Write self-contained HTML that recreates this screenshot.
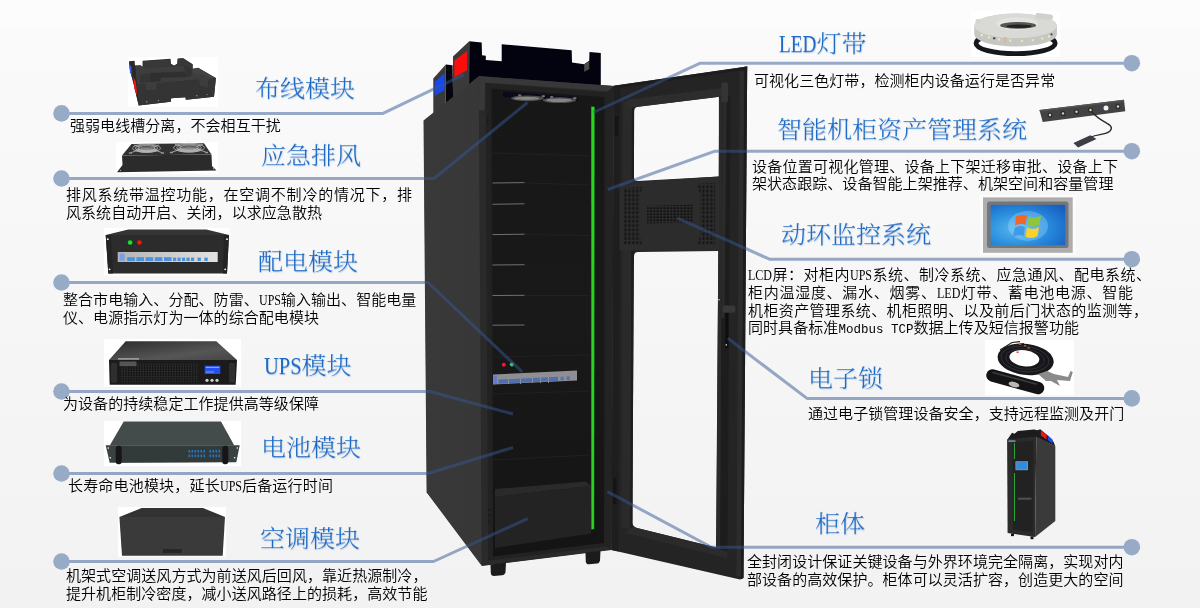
<!DOCTYPE html>
<html lang="zh-CN">
<head>
<meta charset="utf-8">
<title>智能机柜模块介绍</title>
<style>
html,body{margin:0;padding:0;}
body{width:1200px;height:610px;overflow:hidden;position:relative;
  background:linear-gradient(180deg,#fcfcfc 0px,#fcfcfc 28.5px,#fafafa 29px,#f8f8f8 190px,#f5f5f5 380px,#f2f2f2 607.5px,#ffffff 608px,#ffffff 610px);
  font-family:"Liberation Serif","Noto Sans CJK SC",sans-serif;}
#art{position:absolute;left:0;top:0;width:1200px;height:610px;}
.t{position:absolute;white-space:nowrap;color:#1b6ac6;font-size:25px;line-height:30px;
  font-family:"Liberation Serif","Noto Serif CJK SC",serif;font-weight:300;
  text-shadow:.8px .8px 1.2px rgba(120,150,200,.35);transform:scaleY(.95);transform-origin:0 88%;will-change:transform;}
.t .en{display:inline-block;transform-origin:0 50%;}
.b{position:absolute;white-space:nowrap;color:#000;font-size:15px;line-height:18px;
  font-family:"Liberation Serif","Noto Sans CJK SC",sans-serif;font-weight:350;letter-spacing:.06px;will-change:transform;}
.b.j{text-align:justify;text-align-last:justify;text-justify:inter-character;}
.b .en{display:inline-block;font-family:"Liberation Serif",serif;font-size:15px;letter-spacing:0;transform:scaleX(.8);transform-origin:0 50%;font-weight:400;}
.b .mo{font-family:"Liberation Mono",monospace;font-size:12.5px;letter-spacing:0;}
</style>
</head>
<body>
<svg id="art" width="1200" height="610" viewBox="0 0 1200 610">
<defs>
  <linearGradient id="gSide" x1="0" y1="0" x2="1" y2="0">
    <stop offset="0" stop-color="#393939"/><stop offset="1" stop-color="#373737"/>
  </linearGradient>
  <linearGradient id="gInt" x1="0" y1="0" x2="0" y2="1">
    <stop offset="0" stop-color="#171717"/><stop offset=".5" stop-color="#191919"/><stop offset="1" stop-color="#141414"/>
  </linearGradient>
  <pattern id="perf" x="0" y="0" width="3.9" height="4.3" patternUnits="userSpaceOnUse">
    <rect x=".4" y=".4" width="2.1" height="3" fill="#151515"/>
  </pattern>
  <pattern id="perf2" x="0" y="0" width="3.4" height="3" patternUnits="userSpaceOnUse">
    <rect x=".3" y=".3" width="2.3" height="1.9" fill="#121212"/>
  </pattern>
</defs>
<g id="cabinet">
  <!-- top wiring tray -->
  <polygon fill="#03030f" points="469.2,41.3 481.7,42.5 482,55.3 485.8,55.8 485.8,60 501.7,61.3 501.7,44.2 571.7,50.3 572,62.5 584.2,64.2 589.2,60.8 589.5,52 600.8,53 600.8,90 480,82 469,90"/>
  <polygon fill="#4a4a4a" points="584.2,64.2 589.2,60.8 589.3,69 584.2,72"/>
  <!-- red box side -->
  <polygon fill="#3a3a3a" points="453,56.5 469.2,41.3 469.2,90 453,103"/>
  <polygon fill="#fb0d0d" points="454.3,60.4 467.1,50.9 467.1,70.2 454.3,77.3"/>
  <!-- blue box -->
  <polygon fill="#05050f" points="445.8,64.5 452.6,65.3 453.2,104 445.8,108"/>
  <polygon fill="#3a3a3a" points="433.3,78.5 445.8,64.5 445.8,108 433.3,118"/>
  <polygon fill="#1747f0" points="434.7,81.7 444.5,73.5 444.5,89.9 434.7,95.7"/>
  <!-- base under side+front to avoid seams -->
  <polygon fill="#303030" points="424,121 479,76.5 613.5,86.4 611.3,549.6 482,565.6 427,492.5"/>
  <!-- side face -->
  <polygon fill="url(#gSide)" points="423.5,120.5 479,76 481.8,566 426.6,492.3"/>
  <!-- front frame -->
  <polygon fill="#2a2a2a" points="478.7,76.1 613.8,86 611.5,550 481.8,566"/>
  <polygon fill="#383838" points="478.7,76.1 613.8,86 613.7,91.5 485,82.4 484.6,110 478.9,110"/>
  <polygon fill="#222222" points="485.6,83 607.5,92.5 606,546.5 488.2,560.5"/>
  <!-- interior -->
  <polygon fill="url(#gInt)" points="491.5,88.5 604.5,97 604,543 493,556.5"/>
  <!-- right post of frame -->
  <polygon fill="#232323" points="606.5,92.5 613.8,86 611.5,550 605.5,546"/>
  <!-- fans at top -->
  <polygon fill="#0a0a1c" points="503,91.5 578,97.2 578,101 503,97"/>
  <ellipse cx="527.5" cy="98.3" rx="16.5" ry="2.9" fill="#4e4e4e"/>
  <ellipse cx="526.5" cy="98.4" rx="12.5" ry="1.7" fill="#858585"/>
  <rect x="518" y="94.2" width="3.4" height="2.2" rx="1" fill="#6a6a6a"/><rect x="541.5" y="95.2" width="3.6" height="1.8" rx=".9" fill="#777"/>
  <ellipse cx="559.5" cy="100.2" rx="16.8" ry="2.9" fill="#4e4e4e"/>
  <ellipse cx="559" cy="100.3" rx="12.8" ry="1.7" fill="#858585"/>
  <rect x="550" y="96" width="3.4" height="2.2" rx="1" fill="#6a6a6a"/><rect x="573" y="97.3" width="3.6" height="1.8" rx=".9" fill="#777"/>
  <!-- shelf lines -->
  <g stroke="#707070" stroke-width="1" fill="none">
    <line x1="492.5" y1="183" x2="524.5" y2="182.6"/><line x1="492.5" y1="204.3" x2="524.5" y2="203.8"/>
    <line x1="492.5" y1="234.6" x2="524.5" y2="234.2"/><line x1="492.5" y1="265" x2="524.5" y2="264.7"/>
    <line x1="492.5" y1="295.5" x2="524.5" y2="295.3"/><line x1="492.5" y1="325.2" x2="524.5" y2="325"/>
  </g>
  <g stroke="#212121" stroke-width="1" fill="none">
    <line x1="492.5" y1="153" x2="590" y2="156"/><line x1="525" y1="183" x2="590" y2="185"/><line x1="525" y1="234.5" x2="590" y2="235.5"/>
    <line x1="525" y1="295.5" x2="590" y2="295.5"/><line x1="493" y1="357" x2="590" y2="355"/><line x1="493" y1="394" x2="590" y2="391"/>
    <line x1="493" y1="460" x2="590" y2="455"/>
  </g>
  <!-- PDU inside -->
  <polygon fill="#8e8e93" points="493,374.5 577,370.5 577,380.5 493,384.5"/>
  <polygon fill="#6a78cc" points="493.3,375.6 497,375.4 497,384 493.3,384.2"/>
  <polygon fill="#4f6fae" points="498.5,379.6 558,376.8 558,380.9 498.5,383.7"/>
  <g fill="#8e8e93"><rect x="508" y="376" width="1" height="8"/><rect x="520" y="376" width="1" height="8"/><rect x="532" y="375" width="1" height="8"/><rect x="540" y="375" width="1" height="8"/><rect x="548" y="375" width="1" height="8"/></g>
  <rect x="560.5" y="376.8" width="3.2" height="3.6" fill="#5673b0"/><rect x="566.5" y="376.4" width="3.2" height="3.6" fill="#5673b0"/>
  <circle cx="503.8" cy="364.8" r="2" fill="#ff1030"/><circle cx="511.8" cy="364.5" r="2" fill="#2fd455"/>
  <!-- AC unit inside -->
  <polygon fill="#2a2a2a" points="495,489 586,481.5 591,486 495,497"/>
  <polygon fill="#232323" points="495,497 591,486 591,533.5 495,548"/>
  <!-- green LED strip -->
  <polygon fill="#20c81a" points="591.2,106.4 594.6,106.7 594.2,529 591.3,529.5"/>
  <polygon fill="#4dff4d" fill-opacity=".35" points="592.3,107 593.6,107 593.3,529 592.3,529"/>
  <g fill="#101010"><circle cx="487.9" cy="118.2" r=".7"/><circle cx="487.9" cy="121" r=".7"/><circle cx="487.9" cy="124.3" r=".7"/><circle cx="489.2" cy="509.8" r=".8"/><circle cx="489.2" cy="515.2" r=".8"/><circle cx="489.2" cy="521.8" r=".8"/></g>
  <!-- feet -->
  <path fill="#1b1b1b" d="M490.5,564.5 L506,562.5 L505.5,572 Q505,575 502,575.3 L494,576 Q491,576 490.8,573 Z"/>
  <path fill="#1b1b1b" d="M585.5,552.5 L600.5,550.7 L600,560.5 Q599.6,563.3 597,563.6 L589,564.3 Q586,564.4 585.8,561.5 Z"/>
  <!-- door -->
  <path fill="#242424" fill-rule="evenodd" d="M613.8,85.7 L747.2,66.4 L743.5,578 L740,579.4 L611.5,550 Z
     M634,111.5 Q634,107.3 638,106.7 L718.9,96.7 L718.9,176.6 L638,180.9 Q634,181.1 634,177.5 Z
     M634,256.5 Q634,252.3 638,252.1 L718.4,251 L716,547.6 L637,528 Q632.3,526.6 632.3,522 Z"/>
  <!-- door outer rim highlights -->
  <polygon fill="#2c2c2c" points="739.5,72 744.4,71.3 741,577 736.3,575.5"/>
  <polygon fill="#1c1c1c" points="744.4,66.8 747.2,66.4 743.5,578 741,579.2"/>
  <polygon fill="#1d1d1d" points="613.8,85.7 747.2,66.4 747.1,69.5 613.9,88.8"/>
  <polygon fill="#1d1d1d" points="722.5,97.5 730.5,96.4 727.5,551.5 720,549.5"/>
  <polygon fill="#2a2a2a" points="719.2,98 722.5,97.5 720,549.5 716.4,548.5"/>
  <polygon fill="#1e1e1e" points="613.8,88.8 620.5,87.8 618.5,551.6 611.5,550"/>
  <polygon fill="#2a2a2a" points="623,101.5 632,100.3 630.3,529.5 621.3,527.5"/>
  <polygon fill="#1e1e1e" points="632,103 634.2,102.7 632.5,530 630.3,529.5"/>
  <polygon fill="#2d2d2d" points="627.5,99.5 722,88 722,96.4 638,106.7 634,107.5 627.5,108.6"/>
  <polygon fill="#2b2b2b" points="632.3,527 637,528 716,547.6 716.6,548.5 727.5,551.5 727.2,558 625,533"/>
  <!-- perforated panel -->
  <polygon fill="#2c2c2c" points="619.5,183 719.4,176.5 719.4,251 619.5,250.6"/>
  <polygon fill="url(#perf)" points="623.4,188 643,186.8 639.2,196 639.2,236 643,245 623.4,245"/>
  <polygon fill="url(#perf)" points="696,184 715.2,182.8 715.2,245 696,245 700.2,236 700.2,194"/>
  <polygon fill="url(#perf2)" points="647,206 692.5,204.5 692.5,222.5 647,223.5"/>
  <!-- hinge / lock details -->
  <rect x="721.3" y="82.5" width="6.8" height="20" rx="2" fill="#343434"/>
  <polygon fill="#2b2b2b" points="722.8,102 726.6,102 724.4,318 721.4,318"/>
  <rect x="725.4" y="311" width="3" height="37.5" rx="1" fill="#0e0e0e"/>
  <rect x="722.8" y="305.4" width="12.6" height="7.4" rx="2.2" fill="#383838"/>
  <circle cx="719" cy="299.7" r=".8" fill="#cfcfcf"/><circle cx="726.3" cy="344.9" r=".8" fill="#cfcfcf"/>
  <rect x="614.8" y="116" width="3.5" height="20" fill="#151515"/>
  <rect x="613" y="478" width="3.5" height="26" fill="#151515"/>
</g>

<defs>
  <linearGradient id="gUpsTop" x1="0" y1="0" x2="1" y2="1">
    <stop offset="0" stop-color="#2c2c2c"/><stop offset=".65" stop-color="#565656"/><stop offset="1" stop-color="#444"/>
  </linearGradient>
  <linearGradient id="gStrip" x1="0" y1="0" x2="1" y2="0">
    <stop offset="0" stop-color="#b4b4b4"/><stop offset="1" stop-color="#e2e2e2"/>
  </linearGradient>
  <radialGradient id="gScr" cx=".35" cy=".6" r=".8">
    <stop offset="0" stop-color="#58b8ee"/><stop offset=".5" stop-color="#2a8ede"/><stop offset="1" stop-color="#155fc2"/>
  </radialGradient>
  <pattern id="grille" x="0" y="0" width="1.6" height="2.4" patternUnits="userSpaceOnUse">
    <rect x="0" y="0" width="1.6" height="2.4" fill="#101010"/><rect x=".9" y="0" width=".7" height="2.4" fill="#2c2c2c"/><rect x="0" y="1.9" width="1.6" height=".5" fill="#2c2c2c"/>
  </pattern>
</defs>
<g id="thumbs">
  <!-- 1 wiring tray -->
  <rect x="127.9" y="56.9" width="90" height="50" fill="#ffffff"/>
  <polygon fill="#2c2c2c" points="129.1,61.3 134.6,60.8 135.0,65.6 140.5,65.3 142.7,66.7 142.7,60.7 170.4,58.7 171.0,63.8 174.1,65.6 177.1,63.8 177.6,58.4 183.0,58.1 192.8,64.3 192.8,68.7 198.2,67.7 215.9,78.1 214.0,96.7 185.9,99.7 185.5,97.2 171.2,98.2 170.7,101.7 138.7,105.6 133.8,84.4 129.9,69.7"/>
  <polygon fill="#383838" points="142.7,61.3 170.2,59.4 171.0,64.3 174.1,66.0 177.6,64.3 177.9,59.1 182.8,58.7 192.0,64.6 192.0,68.9 186.9,66.7 182.0,65.8 147.1,67.7 146.8,69.9 142.7,67.7"/>
  <polygon fill="#3d3d3d" points="135.0,65.8 140.5,65.5 142.7,67.2 147.1,67.7 182.0,65.8 191.8,69.2 198.2,68.2 215.0,78.1 208.6,80.5 207.6,88.4 199.7,85.4 198.7,79.5 156.9,83.5 156.4,89.9 146.1,90.3 145.1,84.0 136.8,84.4"/>
  <polygon fill="#2f2f2f" points="149.6,73.1 184.0,71.7 188.4,77.1 160.9,77.8 160.4,81.5 149.6,82.0"/>
  <polygon fill="#343434" points="139.7,75.6 149.4,73.1 149.4,82.0 140.2,83.5"/>
  <polygon fill="#333333" points="184.2,66.7 191.8,68.7 191.8,75.1 188.4,77.4 185.0,75.6"/>
  <polygon fill="#434343" points="192.8,68.9 198.2,67.9 215.6,78.0 209.5,78.4 202.7,74.1 197.3,74.8 192.8,72.2"/>
  <polygon fill="#343434" points="136.8,84.4 145.1,84.0 146.1,90.3 156.4,89.9 156.9,83.5 198.7,79.5 199.7,85.4 207.6,88.4 208.6,80.5 209.5,78.4 215.9,78.1 214.0,96.7 185.9,99.7 185.5,97.2 171.2,98.2 170.7,101.7 138.7,105.6"/>
  <polygon fill="#292929" points="129.1,61.3 135.0,65.8 136.8,84.4 138.7,105.6 133.8,84.4 129.9,69.7"/>
  <polygon fill="#2f62e6" points="129.4,64.3 131.4,66.7 131.7,75.1 129.9,73.1"/>
  <polygon fill="#f01414" points="133.1,76.6 135.8,81.5 137.4,95.3 134.6,89.9"/>
  <g fill="#9a9a9a"><circle cx="146.8" cy="101.7" r=".7"/><circle cx="158.4" cy="100.4" r=".6"/><circle cx="196.8" cy="95.8" r=".7"/><circle cx="207.1" cy="94.5" r=".6"/></g>
  <!-- 2 fan unit -->
  <rect x="116.2" y="142.2" width="102" height="31.3" fill="#ffffff"/>
  <polygon fill="#2b2b2b" points="122.0,155.5 211.5,154.5 212.0,166.0 216.5,170.5 117.0,172.2 122.5,165.0"/>
  <polygon fill="#313131" points="131.5,144.0 204.0,143.2 211.5,154.6 122.0,155.6"/>
  <ellipse cx="146.5" cy="149.7" rx="11.2" ry="3.0" fill="#6f6f6f"/><ellipse cx="146.5" cy="150.5" rx="10.4" ry="2.2" fill="#8e8e8e"/><ellipse cx="146.5" cy="148.2" rx="14.0" ry="4.2" fill="none" stroke="#c4c4c4" stroke-width=".7"/><ellipse cx="146.5" cy="148.2" rx="11.2" ry="3.4" fill="none" stroke="#c4c4c4" stroke-width=".7"/><ellipse cx="146.5" cy="148.2" rx="8.4" ry="2.5" fill="none" stroke="#c4c4c4" stroke-width=".7"/><path d="M131.0,152.7 L138.8,149.7 M162.0,152.7 L154.2,149.7 M133.9,144.9 L139.5,146.9 M159.1,144.9 L153.5,146.9" stroke="#bdbdbd" stroke-width=".8" fill="none"/><rect x="128.9" y="152.3" width="3" height="1.4" fill="#9c9c9c"/><rect x="161.1" y="152.3" width="3" height="1.4" fill="#9c9c9c"/>
  <ellipse cx="189.0" cy="149.2" rx="12.4" ry="3.2" fill="#6f6f6f"/><ellipse cx="189.0" cy="150.0" rx="11.5" ry="2.3" fill="#8e8e8e"/><ellipse cx="189.0" cy="147.7" rx="15.5" ry="4.4" fill="none" stroke="#c4c4c4" stroke-width=".7"/><ellipse cx="189.0" cy="147.7" rx="12.4" ry="3.5" fill="none" stroke="#c4c4c4" stroke-width=".7"/><ellipse cx="189.0" cy="147.7" rx="9.3" ry="2.6" fill="none" stroke="#c4c4c4" stroke-width=".7"/><path d="M172.0,152.2 L180.5,149.2 M206.0,152.2 L197.5,149.2 M175.1,144.4 L181.2,146.4 M202.9,144.4 L196.8,146.4" stroke="#bdbdbd" stroke-width=".8" fill="none"/><rect x="169.9" y="151.8" width="3" height="1.4" fill="#9c9c9c"/><rect x="205.1" y="151.8" width="3" height="1.4" fill="#9c9c9c"/>
  <circle cx="120.5" cy="170.4" r=".6" fill="#aaa"/><circle cx="213.5" cy="168.7" r=".6" fill="#aaa"/>
  <!-- 3 PDU box -->
  <rect x="104" y="228" width="126" height="47.7" fill="#ffffff"/>
  <polygon fill="#353535" points="128.3,229.4 206.3,229.4 229,235 105.7,235"/>
  <polygon fill="#2c2c2c" points="105.7,235 229,235 227,273.4 108.3,273.4"/>
  <polygon fill="#242424" points="105.7,235 111,235 113,273.4 108.3,273.4"/><polygon fill="#242424" points="224,235 229,235 227,273.4 223,273.4"/>
  <rect x="117.7" y="252" width="100" height="10" fill="url(#gStrip)"/>
  <rect x="119.7" y="253.6" width="4.9" height="7.1" fill="#7b9cf2"/>
  <g fill="#4a92dc">
    <rect x="127.2" y="257.2" width="7.6" height="3.8"/><rect x="136.4" y="257.2" width="7.6" height="3.8"/><rect x="145.6" y="257.2" width="7.6" height="3.8"/>
    <rect x="154.8" y="257.2" width="7.6" height="3.8"/><rect x="164" y="257.2" width="7.6" height="3.8"/>
    <rect x="173" y="257.6" width="3.2" height="3.4"/><rect x="177.5" y="257.6" width="3.2" height="3.4"/><rect x="182" y="257.6" width="3.2" height="3.4"/>
    <rect x="186.5" y="257.6" width="3.2" height="3.4"/><rect x="191" y="257.6" width="3.2" height="3.4"/><rect x="197.5" y="257.6" width="3.4" height="3.4"/><rect x="204.3" y="257.6" width="3.4" height="3.4"/>
  </g>
  <circle cx="130.1" cy="242.5" r="2.3" fill="#12e61e"/><circle cx="139.4" cy="242.5" r="2.3" fill="#ff1212"/>
  <g fill="#ffffff"><circle cx="107.8" cy="239.2" r=".9"/><circle cx="227" cy="239.2" r=".9"/><circle cx="109.6" cy="269.3" r=".9"/><circle cx="225.2" cy="269.3" r=".9"/></g>
  <!-- 4 UPS -->
  <rect x="104" y="339" width="137" height="47.7" fill="#ffffff"/>
  <polygon fill="url(#gUpsTop)" points="125.7,341.3 216.3,341.3 237,360 109,360"/>
  <polygon fill="#1b1b1b" points="109,360 237,360 235.7,384.7 109.7,384.7"/>
  <rect x="120.5" y="363.5" width="78" height="19" fill="url(#grille)"/>
  <rect x="119.5" y="361.5" width="17" height="4.5" fill="#555"/>
  <rect x="118" y="358.2" width="21" height="1.4" fill="#a8a8a8"/>
  <rect x="111" y="362.7" width="6" height="20" rx="1.5" fill="#2f2f2f"/><rect x="229" y="362.7" width="6" height="20" rx="1.5" fill="#2f2f2f"/>
  <rect x="204.7" y="365.7" width="15.6" height="8.3" fill="#2450f0"/>
  <rect x="205.8" y="366.8" width="13.4" height="1.2" fill="#7fa6ff"/><rect x="205.8" y="371.5" width="8" height="1" fill="#7fa6ff"/>
  <circle cx="207" cy="380.3" r="1.6" fill="#d0d0d0"/><circle cx="212" cy="380.3" r="1.6" fill="#d0d0d0"/><circle cx="217" cy="380.3" r="1.6" fill="#d0d0d0"/>
  <!-- 5 battery -->
  <rect x="104" y="421" width="137" height="45" fill="#ffffff"/>
  <polygon fill="#444c4b" points="123.7,421.6 221,421.6 234.3,445.5 109.7,445.5"/>
  <polygon fill="#3a4241" points="105.7,445.3 239.7,445.3 236.3,462.3 109.7,462.7"/>
  <polygon fill="#333a3a" points="120,446 223,446 222,462 121,462.4"/>
  <rect x="115.7" y="445.8" width="6" height="18.4" rx="2.6" fill="#161616"/><rect x="222.3" y="445.8" width="6" height="18.4" rx="2.6" fill="#161616"/>
  <g fill="#2d74b8">
    <rect x="188.5" y="450" width="1.6" height="2.6"/><rect x="191.5" y="450" width="1.6" height="2.6"/><rect x="194.5" y="450" width="1.6" height="2.6"/><rect x="197.5" y="450" width="1.6" height="2.6"/><rect x="200.5" y="450" width="1.6" height="2.6"/><rect x="203.5" y="450" width="1.6" height="2.6"/>
    <rect x="209.5" y="450" width="1.6" height="2.6"/><rect x="212.5" y="450" width="1.6" height="2.6"/><rect x="215.5" y="450" width="1.6" height="2.6"/><rect x="218.5" y="450" width="1.6" height="2.6"/>
    <rect x="188.5" y="454.6" width="1.6" height="2.6"/><rect x="191.5" y="454.6" width="1.6" height="2.6"/><rect x="194.5" y="454.6" width="1.6" height="2.6"/><rect x="197.5" y="454.6" width="1.6" height="2.6"/><rect x="200.5" y="454.6" width="1.6" height="2.6"/><rect x="203.5" y="454.6" width="1.6" height="2.6"/>
    <rect x="209.5" y="454.6" width="1.6" height="2.6"/><rect x="212.5" y="454.6" width="1.6" height="2.6"/><rect x="215.5" y="454.6" width="1.6" height="2.6"/><rect x="218.5" y="454.6" width="1.6" height="2.6"/>
  </g>
  <g fill="#ffffff"><circle cx="108.3" cy="448" r=".8"/><circle cx="110.3" cy="457.7" r=".8"/><circle cx="237.3" cy="448" r=".8"/><circle cx="234.7" cy="457.7" r=".8"/></g>
  <!-- 6 AC unit -->
  <rect x="118" y="507" width="108" height="49.6" fill="#ffffff"/>
  <polygon fill="#323232" points="141.7,508 203,508 225,517 119.4,517"/>
  <polygon fill="#3a3a3a" points="119.4,517 225,517 222.7,555.7 122,555.7"/>
  <rect x="163" y="549" width="18.7" height="4" fill="#262626"/>
  <!-- R1 LED strip coil -->
  <rect x="971.1" y="10.9" width="88.8" height="46.2" fill="#ffffff"/>
  <ellipse cx="1015.6" cy="43.3" rx="39.6" ry="10.4" fill="none" stroke="#15171c" stroke-width="4.8"/>
  <ellipse cx="1015.6" cy="40" rx="39" ry="8.2" fill="#ffffff" fill-opacity="0"/>
  <path fill="#c6c7c3" d="M974.3,25.8 A41.3,12.3 0 0 1 1056.9,25.8 L1056.9,34.2 A41.3,12.3 0 0 1 974.3,34.2 Z"/>
  <ellipse cx="1015.6" cy="25.8" rx="41.3" ry="12.3" fill="#d9dad6"/>
  <ellipse cx="1017.2" cy="23.6" rx="21" ry="6.4" fill="#e3e3df"/>
  <ellipse cx="1018.1" cy="25.4" rx="18" ry="3.3" fill="#555"/>
  <ellipse cx="1019" cy="26.2" rx="12.5" ry="1.7" fill="#222"/>
  <rect x="1035.5" y="13.6" width="17.5" height="5.8" rx="2.4" fill="#d0d0cc" transform="rotate(7 1044 16.5)"/>
  <rect x="975.5" y="19" width="5" height="5" rx="2" fill="#d4d5d1"/>
  <rect x="980.6" y="33.9" width="2.2" height="2.2" fill="#f2e6ae"/><rect x="988.0" y="36.3" width="2.2" height="2.2" fill="#f2e6ae"/><rect x="997.8" y="38.3" width="2.2" height="2.2" fill="#f2e6ae"/><rect x="1009.1" y="39.5" width="2.2" height="2.2" fill="#f2e6ae"/><rect x="1020.9" y="39.8" width="2.2" height="2.2" fill="#f2e6ae"/><rect x="1031.7" y="39.1" width="2.2" height="2.2" fill="#f2e6ae"/><rect x="1041.1" y="37.3" width="2.2" height="2.2" fill="#f2e6ae"/><rect x="1048.0" y="35.2" width="2.2" height="2.2" fill="#f2e6ae"/>
  <rect x="993.0" y="37.4" width="2.4" height="1.8" fill="#444"/><rect x="1050.5" y="33.5" width="2" height="1.8" fill="#444"/>
  <rect x="1003.8" y="37.0" width="2.6" height="6" fill="#d8b9a0"/>
  <!-- R2 asset strip -->
  <polygon fill="#434345" points="1039.5,110 1124,99.8 1125.3,111.2 1042.7,122"/>
  <polygon fill="#555" points="1039.5,110 1124,99.8 1124.2,101.3 1039.8,111.5"/>
  <g fill="#2c2c2e"><circle cx="1050" cy="115" r="2.6"/><circle cx="1063" cy="113.4" r="2.6"/><circle cx="1076.5" cy="111.8" r="2.6"/><circle cx="1090.5" cy="110" r="2.6"/><circle cx="1118" cy="106.5" r="2.6"/></g>
  <g fill="#e4d3ab"><circle cx="1050" cy="115" r="1.2"/><circle cx="1063" cy="113.4" r="1.2"/><circle cx="1076.5" cy="111.8" r="1.2"/><circle cx="1090.5" cy="110" r="1.2"/><circle cx="1118" cy="106.5" r="1.2"/></g>
  <circle cx="1106" cy="108" r="2.5" fill="#f2f2f2"/>
  <path d="M1092,112 C1102,124 1116,124 1110,131 C1106,135 1098,134 1091,137" fill="none" stroke="#2a2a2a" stroke-width="1.3"/>
  <polygon fill="#3c3e46" points="1073.4,143 1090.4,135.2 1096.5,139.1 1078.1,147.5"/>
  <!-- R3 LCD screen -->
  <rect x="980" y="195" width="96" height="60" fill="#fbfbfb"/>
  <rect x="983" y="197.4" width="89.7" height="55.4" fill="#adadad"/>
  <rect x="987" y="201.6" width="81.5" height="46.4" rx="2.5" fill="#767676"/>
  <rect x="990.6" y="204.8" width="74.7" height="40.4" fill="url(#gScr)"/>
  <ellipse cx="1028" cy="226" rx="20" ry="15" fill="#bfe6ff" fill-opacity=".28"/>
  <g transform="translate(1028 225.4) skewY(-6)">
    <path d="M-12,-10 Q-6,-13 -1,-9.5 L-2.5,-.8 Q-7,-4 -13,-1 Z" fill="#f2662a"/>
    <path d="M1,-9 Q7,-5.5 13,-8.5 L11.5,.5 Q6,3.5 -.5,-.2 Z" fill="#8cc63e"/>
    <path d="M-13.5,1.2 Q-8,-2 -3,1.5 L-4.5,10.3 Q-9,7 -15,10 Z" fill="#3f9be8"/>
    <path d="M-1,2 Q5,5.8 11,2.8 L9.5,11.5 Q4,14.5 -2.5,11 Z" fill="#fbd12c"/>
  </g>
  <!-- R4 lock -->
  <rect x="985" y="339.8" width="89" height="55.4" fill="#ffffff"/>
  <g transform="rotate(7 1025 359)"><path fill="#17171b" fill-rule="evenodd" d="M997.5,359.3 a28.2,15.6 0 1 0 56.4,0 a28.2,15.6 0 1 0 -56.4,0 Z M1009.3,358.3 a15,8 0 1 0 30,0 a15,8 0 1 0 -30,0 Z"/>
  <ellipse cx="1025" cy="359" rx="24" ry="12.6" fill="none" stroke="#3a3a40" stroke-width=".7"/><ellipse cx="1025" cy="359" rx="19.5" ry="10.2" fill="none" stroke="#34343a" stroke-width=".7"/></g>
  <path d="M1000,350 L1012,342.5 L1020,341.6 M1012,346 L1024,343.5" stroke="#222" stroke-width="1.2" fill="none"/>
  <g fill="#e0482e"><rect x="1019" y="343.5" width="2.2" height="1.4"/><rect x="1024" y="345" width="2.2" height="1.4"/><rect x="1027.5" y="347.2" width="2.2" height="1.4"/><rect x="1016.5" y="351.5" width="2.2" height="1.4"/></g>
  <path d="M992.5,375.5 L1038,388" stroke="#141416" stroke-width="12.5" stroke-linecap="round" fill="none"/>
  <path d="M993,372.5 L1036,384" stroke="#3c3c40" stroke-width="1.5" stroke-linecap="round" fill="none"/>
  <ellipse cx="1014" cy="384.5" rx="5.5" ry="2.6" fill="#b9b9b1" transform="rotate(15 1014 384.5)"/>
  <path d="M1038,374 L1047,371 L1054,374 L1068,377 L1070.5,371 L1072.8,372 L1070,381 L1057,380 L1060,386 L1051,381 L1046,381 Z" fill="#8a8a8a"/>
  <!-- R5 small cabinet -->
  <polygon fill="#1c1c1c" points="1012,432.7 1014.5,433.8 1017.8,431 1034,429.6 1037.5,430.3 1040.2,429.2 1049,436.5 1053.5,441.8 1055.3,446.4 1036.3,437.2 1007.1,440"/>
  <polygon fill="#2b2b2b" points="1007.1,439.5 1036.3,436.5 1035.1,537.1 1007.6,533"/>
  <polygon fill="#3a3a3a" points="1036.3,436.5 1055.3,446.4 1055.3,521 1035.1,537.1"/>
  <polygon fill="#222" points="1012.5,442.5 1033.5,440.5 1032.7,532.5 1013,529.5"/>
  <polygon fill="#f01515" points="1040.9,430.8 1046.6,434.6 1046.6,439.4 1040.9,435.6"/>
  <polygon fill="#1c4cf0" points="1047.9,435.4 1052.5,439.4 1052.5,444 1047.9,440"/>
  <rect x="1015.4" y="461.2" width="12.6" height="9" fill="#8a8f96"/><rect x="1016.4" y="462.2" width="10.6" height="7" fill="#2f8ce0"/>
  <rect x="1013.9" y="443" width="1.1" height="16" fill="#2aa336"/><rect x="1013.9" y="473" width="1.1" height="48" fill="#2aa336"/>
  <rect x="1018" y="497.6" width="13.5" height="2.2" fill="#4a4d55"/>
  <rect x="1008.4" y="440.2" width="7" height="1.8" fill="#6d87a0"/>
  <rect x="1011" y="533.5" width="3" height="2.6" fill="#151515"/><rect x="1030.5" y="536.4" width="3" height="2.8" fill="#151515"/>
</g>

<!-- connector lines -->
<g fill="none" stroke="#355894" stroke-opacity=".5" stroke-width="3" stroke-linejoin="round">
  <polyline points="62,113.4 383,113.4 463.7,74.7"/>
  <polyline points="62,178.5 434,178.5 527.5,102.5"/>
  <polyline points="62,282.5 428,282.5 522.3,372"/>
  <polyline points="62,391.5 430,391.5 513,414"/>
  <polyline points="62,473.5 428,473.5 513,447.5"/>
  <polyline points="62,561.5 433.5,561.5 527.6,518.6"/>
  <polyline points="1131.5,63.2 700.3,63.2 593.3,112.5"/>
  <polyline points="1131.5,151.2 715,151.2 607.7,189.5"/>
  <polyline points="1131.5,259.2 769.5,259.2 677.3,218.2"/>
  <polyline points="1131.5,398.4 807,398.4 727.8,338.3"/>
  <polyline points="1131.5,547.2 711.5,547.2 607.4,491.6"/>
</g>
<g fill="#98abc6">
  <circle cx="61.5" cy="113.4" r="8.3"/><circle cx="61.5" cy="178.5" r="8.3"/><circle cx="61.5" cy="282.5" r="8.3"/>
  <circle cx="61.5" cy="391.5" r="8.3"/><circle cx="61.5" cy="473.5" r="8.3"/><circle cx="61.5" cy="561.5" r="8.3"/>
  <circle cx="1131.8" cy="63.2" r="8.3"/><circle cx="1131.8" cy="151.2" r="8.3"/><circle cx="1131.8" cy="259.2" r="8.3"/>
  <circle cx="1131.8" cy="398.4" r="8.3"/><circle cx="1131.8" cy="547.2" r="8.3"/>
</g>
</svg>
<!-- titles -->
<div class="t" style="left:254.5px;top:73.5px">布线模块</div>
<div class="t" style="left:261.2px;top:140.6px">应急排风</div>
<div class="t" style="left:257.6px;top:246.8px">配电模块</div>
<div class="t" style="left:263.5px;top:351.3px"><span class="en" style="transform:scaleX(.82);margin-right:-8.4px">UPS</span>模块</div>
<div class="t" style="left:260.5px;top:433.2px">电池模块</div>
<div class="t" style="left:260.4px;top:524px">空调模块</div>
<div class="t" style="left:778.5px;top:28.5px"><span class="en" style="transform:scaleX(.77);margin-right:-11.1px">LED</span>灯带</div>
<div class="t" style="left:777.2px;top:115.3px">智能机柜资产管理系统</div>
<div class="t" style="left:780.5px;top:220.2px">动环监控系统</div>
<div class="t" style="left:807.5px;top:363.5px">电子锁</div>
<div class="t" style="left:815px;top:509.2px">柜体</div>

<!-- body text : left -->
<div class="b" style="left:70px;top:117px">强弱电线槽分离，不会相互干扰</div>
<div class="b j" style="left:66px;top:186px;width:346px">排风系统带温控功能，在空调不制冷的情况下，排</div>
<div class="b" style="left:66px;top:204px">风系统自动开启、关闭，以求应急散热</div>
<div class="b j" style="left:63px;top:291px;width:352.5px">整合市电输入、分配、防雷、<span class="en" style="margin-right:-5.5px">UPS</span>输入输出、智能电量</div>
<div class="b" style="left:63px;top:309px">仪、电源指示灯为一体的综合配电模块</div>
<div class="b" style="left:63px;top:395px">为设备的持续稳定工作提供高等级保障</div>
<div class="b j" style="left:68px;top:477px;width:265px">长寿命电池模块，延长<span class="en" style="margin-right:-5.5px">UPS</span>后备运行时间</div>
<div class="b" style="left:66px;top:567px">机架式空调送风方式为前送风后回风，靠近热源制冷，</div>
<div class="b" style="left:66px;top:585px">提升机柜制冷密度，减小送风路径上的损耗，高效节能</div>

<!-- body text : right -->
<div class="b" style="left:754px;top:72px">可视化三色灯带，检测柜内设备运行是否异常</div>
<div class="b j" style="left:752px;top:158px;width:366px">设备位置可视化管理、设备上下架迁移审批、设备上下</div>
<div class="b" style="left:752px;top:175px">架状态跟踪、设备智能上架推荐、机架空间和容量管理</div>
<div class="b j" style="left:748px;top:266px;width:403px"><span class="en" style="margin-right:-6px">LCD</span>屏：对柜内<span class="en" style="margin-right:-5.5px">UPS</span>系统、制冷系统、应急通风、配电系统、</div>
<div class="b j" style="left:748px;top:284px;width:385px">柜内温湿度、漏水、烟雾、<span class="en" style="margin-right:-5.8px">LED</span>灯带、蓄电池电源、智能</div>
<div class="b j" style="left:748px;top:302px;width:400px">机柜资产管理系统、机柜照明、以及前后门状态的监测等，</div>
<div class="b j" style="left:748px;top:319px;width:330px">同时具备标准<span class="mo">Modbus TCP</span>数据上传及短信报警功能</div>
<div class="b" style="left:808px;top:405.3px">通过电子锁管理设备安全，支持远程监测及开门</div>
<div class="b" style="left:747px;top:553px">全封闭设计保证关键设备与外界环境完全隔离，实现对内</div>
<div class="b" style="left:747px;top:571px">部设备的高效保护。柜体可以灵活扩容，创造更大的空间</div>
</body>
</html>
